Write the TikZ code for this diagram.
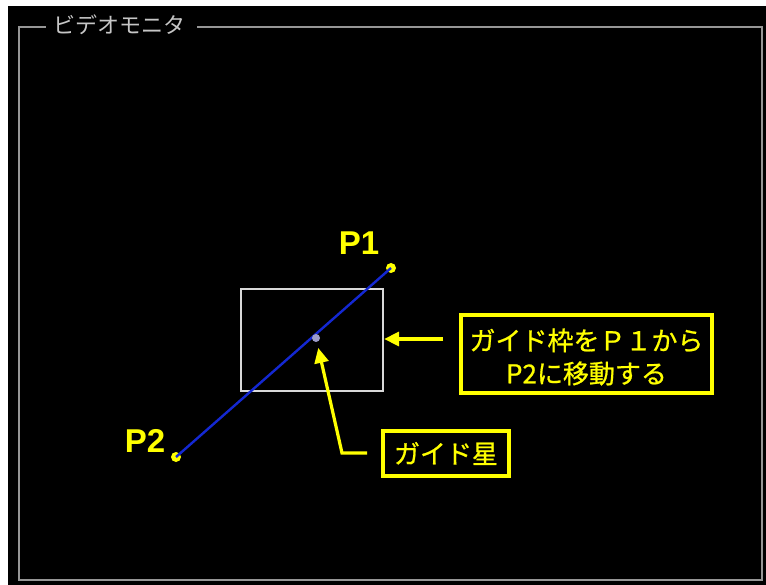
\documentclass[tikz,border=0pt]{standalone}
\usepackage{fontspec}
\setmainfont{Liberation Sans}
\newfontfamily\jp{Noto Sans CJK JP}
\newfontfamily\jpb[FakeBold=0.8]{Noto Sans CJK JP}
\usetikzlibrary{arrows.meta}
\definecolor{ylw}{RGB}{255,255,0}
\definecolor{bluel}{RGB}{20,40,210}
\definecolor{framegray}{RGB}{150,150,150}
\tikzset{
  callout/.style={draw=ylw, line width=3.3pt, text=ylw, inner sep=0pt, align=center, font=\jpb},
  ptlabel/.style={text=ylw, font=\bfseries\fontsize{33}{36}\selectfont, inner sep=0pt},
  ptdot/.style={circle, fill=ylw, inner sep=0pt, minimum size=10pt},
  yarrow/.style={draw=ylw, line width=3.2pt, -{Triangle[length=15pt,width=14pt]}},
}
\begin{document}
\begin{tikzpicture}[x=1pt,y=-1pt]
\useasboundingbox (0,0) rectangle (766,585);
\fill[white] (0,0) rectangle (766,585);
\fill[black] (8,6) rectangle (766,585);
% monitor frame
\node[text=gray!45, font=\jp\fontsize{22}{24}\selectfont, inner sep=0pt] (title) at (119,25) {ビデオモニタ};
\draw[framegray, line width=2.4pt] (title.west) ++(-7,2) coordinate (t1) -- (19,27) -- (19,580) -- (762,580) -- (762,27) -- ([xshift=12pt]title.east |- 0,27);
\draw[framegray, line width=2.4pt] (t1) -- (38,27);
% guide rectangle
\node[draw=white!85!black, line width=2.2pt, minimum width=142pt, minimum height=102pt, inner sep=0pt] (guide) at (312,340) {};
% points
\node[ptdot] (p1) at (391,268) {};
\node[ptdot] (p2) at (176,457) {};
\draw[bluel, line width=2.4pt] (p1.center) -- (p2.center);
\node[circle, fill=gray!70!blue!60!white, inner sep=0pt, minimum size=8pt] (star) at (316,338) {};
\node[ptlabel] (l1) at (359,243) {P1};
\node[ptlabel] (l2) at (145,441) {P2};
% callouts
\node[callout, minimum width=251pt, minimum height=78pt] (c1) at (586.5,354) {};
\node[text=ylw, font=\jpb\fontsize{26}{30}\selectfont, inner sep=0pt, align=center] (c1t) at (586.5,357)
  {ガイド枠をＰ１から\\[3pt]P2に移動する};
\node[callout, minimum width=126pt, minimum height=45pt] (c2) at (446,453.5)
  {\fontsize{26}{28}\selectfont ガイド星};
\coordinate (a1) at (443,339);
\draw[yarrow] (a1) -- (guide.east |- a1);
\coordinate (a2s) at (367,453);
\coordinate (a2k) at (342,453);
\draw[yarrow, shorten >=6pt] (a2s) -- (a2k) -- (star);
\end{tikzpicture}
\end{document}
